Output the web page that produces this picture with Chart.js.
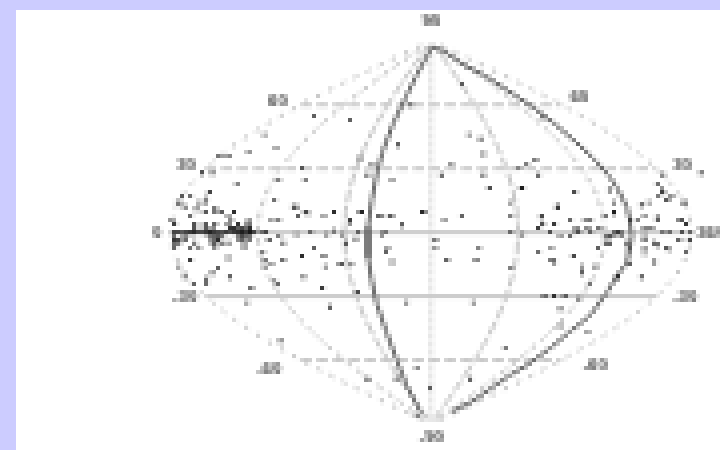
<!DOCTYPE html>
<html>
<head>
<meta charset="utf-8">
<script src="https://cdn.jsdelivr.net/npm/chart.js@4"></script>
<style>
html, body { margin: 0; height: 100%; background: #ccccff; overflow: hidden; }
#sky { position: absolute; left: 16px; top: 10px; background: #fff; image-rendering: pixelated; }
</style>
</head>
<body>
<canvas id="sky" width="704" height="440"></canvas>
<script>
// values are [projected longitude, latitude] in degrees
const starsNorth = [[99,55],[124,53],[65,46],[73,40],[54,38],[40,36],[34,36],[166,60],[157,41],[131,35],[139,32],[91,30],[75,25],[93,25],[153,25],[136,27],[46,23],[29,28],[22,28],
  [201,70],[206,46],[214,44],[216,37],[194,32],[187,27],[216,27],[220,21],[243,21],[246,32],[252,34],[241,30],[254,27],[242,21],[257,54],[336,23],[340,27],[366,28]];
const starsUpperBand = [[27,19],[72,15],[8,17],[14,17],[7,14],[25,16],[20,14],[31,10],[85,12],[88,8],[93,9.5],[106,8],[113,9.5],[131,9.5],[145,8],[151,8],[174,9.5],[124,6],
  [5,14],[10,12],[24,14],[18,11],[24,9.5],[31,11],[35,9.5],[14,8],[40,8],[44,9.5],[42,6],[54,6],[1,6],[70,6],[75,6],[87,12],[95,9],
  [132,9.5],[144,8],[153,8],[175,9.5],[201,8],[235,14],[235,8],[189,6],[124,5],[160,3.5],
  [256,8],[279,19],[267,12],[276,6],[286,6],[290,6],[303,20],[306,14],[325,13],[330,14],[340,19],[337,17],[344,16],[355,14],[336,6],[353,6],[306,9],[317,6],[300,8],[306,9.5],[322,6],[327,8],[336,7],[351,6],[339,20],[346,17],[342,15],[354,14],[256,7],[267,12],[265,4],[257,4]];
const starsEquatorLeft = [[3,0],[6,0],[10,0],[15,0],[17,0],[22,0],[27,0],[33,0],[35,0],[42,0],[46,0],[49,0],[51,0],[55,0],[57,0],[15,0.5],[17,-0.5],[27,0.5],[46,-0.5],[49,0.5],[51,-0.5],[55,0.5],
  [4,0.5],[8,-0.5],[12,0.5],[13,-0.5],[19,0.5],[24,-0.5],[25,0.5],[29,0],[30,0.5],[37,-0.5],[38,0.5],[40,0],[44,0.5],[48,-0.5],[53,0.5],[54,-0.5],[56,-0.5],[59,0],
  [17,2],[24,2],[29,2],[41,2],[44,2],[49,2],[55,2],[52,2.5],[47,1.5],
  [3,4],[17,4],[24,4],[31,4],[40,4],[47,4],[54,4],
  [3,-2],[10,-2],[27,-2],[33,-2],[35,-2],[48,-2],[51,-2],[54,-2],[50,-2.5],[30,-2],
  [3,-3.5],[6,-3.5],[10,-3.5],[29,-3.5],[33,-3.5],[48,-3.5],[54,-3.5],
  [3,-5],[6,-5],[17,-5],[29,-5],[31,-5],[35,-5],[40,-5],[51,-5],
  [3,-7],[14,-7],[20,-7],[31,-7],[51,-7]];
const starsLowerLeft = [[64,0],[66,0],[97,0],[113,1],[108,-1],[119,-1],[68,-3.5],[75,-2],[78,-5],[87,-1],[64,-9],[99,-7],[91,-11],[65,-13],[78,-13],[106,-11],[40,-12],[14,-13],[65,-16],[70,-15],[107,-16],[118,-15],[33,-17],[29,-19],[41,-21],[6,-16],[10,-21],[25,-22],[25,-24],[16,-24],[92,-21],[72,-23],[74,-24],[56,-26],[105,-26],
  [53,-33],[129,-28],[110,-35],[163,-33],[76,-51],[136,-69],[156,-69],[170,-64],[179,-73],[170,-86]];
const starsCentre = [[130,0],[128,-3],[121,-5],[125,-15],[117,-15],[148,0],[146,-1],[150,-7],[149,-9],[153,-14],[183,-3.5],[183,-7],[191,-13],[213,-7],[211,-13],[235,-17],[243,-1],[235,0],[254,-9]];
const starsEquatorRight = [[262,0],[269,-2],[276,-2],[280,2],[280,0],[282,0],[288,2],[290,0],[296,2],[300,-2],[305,-2],[307,0],[308,0.5],[310,0],[310,-1],[312,-1],[303,-2],[303,-5],[327,2],[332,2],[327,-1],[327,-3.5],[340,0],[344,0],[353,0],[359,0],[356,4],[358,-3.5],[351,-3.5],[342,-7],[334,-5],[327,-7],[327,-10],[334,-14],[315,-5],[316,-8],[295,-7],[284,-19],[293,-16],[278,-11],[263,-7],[263,-13],[325,-21],[308,-21],[254,2]];
const starsLowerRight = [[209,-33],[231,-54],[207,-69],[265,-14],[284,-16],[309,-21],[289,-24],[258,-30],[265,-30],[272,-30],[282,-31],[269,-36],[269,-44],[288,-47],[336,-6],[344,-8],[317,-15],[301,-5],[356,-9]];

const planeRightLon = [180,188.9,202.5,217.5,238,250.2,265.2,279.5,292.5,302.7,308.2,315,317,318.4,315,308.2,301.4,289.8,276.1,262.5,246.8,234.5,221.6,208,194.3];
const planeRightLat = [87.4,85.1,78.7,73.6,64.4,58.8,51,42.7,34.4,26.5,21,11.8,5.8,-2.1,-14.1,-20.5,-27.9,-39,-46.4,-54.2,-62.1,-67.1,-73.1,-79.6,-84.2];
const planeLeftLon = [180.7,169.8,163,153.4,146.6,142.5,139,136.4,136.4,136.4,139,142.5,149.3,156.1,163,173.2];
const planeLeftLat = [87.4,73.6,64.4,50.5,38.2,27.6,15,2.5,0.2,-11.8,-22.8,-33.5,-47.2,-59.8,-71.8,-85.1];

const gridLats = [-88,-80,-70,-60,-50,-40,-30,-20,-10,0,10,20,30,40,50,60,70,80,88];
const solidParallels = [0,-30];
const dashedParallels = [30,60,-60];
const outerMeridians = [-180,180];
const midMeridians = [-120,120];
const innerMeridians = [-60,60];

const labelTexts = ['90','60','30','0','-30','-60','-90','60','30','-30','-60','360'];
const labelLon = [180,74,11,-9,10,68,180,282,353,355,293,373];
const labelLat = [99,62.5,31,0,-31,-64,-96,63.5,32.5,-30,-62,0];

const meridian = lon => gridLats.map(lat => ({ x: 180 + lon * Math.cos(lat * Math.PI / 180), y: lat }));
const parallel = lat => {
    const half = 180 * Math.cos(lat * Math.PI / 180);
    return [{ x: 180 - half, y: lat }, { x: 180 + half, y: lat }];
};
const gridLine = (data, dash) => ({
    data, showLine: true, pointRadius: 0, borderColor: '#cacaca', borderWidth: 4, borderDash: dash, order: 3
});
const plane = (lon, lat) => ({
    data: lon.map((x, i) => ({ x, y: lat[i] })),
    showLine: true, pointRadius: 0, borderColor: '#6a6a6a', borderWidth: 4, order: 2
});

const allStars = [...starsNorth, ...starsUpperBand, ...starsEquatorLeft, ...starsLowerLeft, ...starsCentre, ...starsEquatorRight, ...starsLowerRight];

// map labels sit on the same scales as the marks
const mapLabels = {
    id: 'mapLabels',
    afterDatasetsDraw(chart) {
        const { ctx, scales } = chart;
        ctx.save();
        ctx.font = 'bold 17px "Liberation Sans"';
        ctx.fillStyle = '#444';
        ctx.textAlign = 'center';
        ctx.textBaseline = 'middle';
        labelTexts.forEach((t, i) => ctx.fillText(t, scales.x.getPixelForValue(labelLon[i]), scales.y.getPixelForValue(labelLat[i])));
        ctx.restore();
    }
};

new Chart(document.getElementById('sky'), {
    type: 'scatter',
    data: {
        datasets: [
            { data: allStars.map(s => ({ x: s[0], y: s[1] })), pointStyle: 'rect', pointRadius: 2.5, pointBorderWidth: 0, backgroundColor: '#111', order: 1 },
            plane(planeRightLon, planeRightLat),
            plane(planeLeftLon, planeLeftLat),
            ...solidParallels.map(lat => gridLine(parallel(lat), [])),
            ...dashedParallels.map(lat => gridLine(parallel(lat), [11, 5])),
            ...outerMeridians.map(lon => gridLine(meridian(lon), [5, 9])),
            ...midMeridians.map(lon => gridLine(meridian(lon), [7, 6])),
            ...innerMeridians.map(lon => gridLine(meridian(lon), [14, 3])),
            gridLine(meridian(0), [4, 4])
        ]
    },
    options: {
        responsive: false,
        devicePixelRatio: 0.25,
        animation: false,
        layout: { padding: 0 },
        plugins: { legend: { display: false }, tooltip: { enabled: false } },
        scales: {
            x: { type: 'linear', display: false, min: -103.6, max: 376.4 },
            y: { type: 'linear', display: false, min: -100.4, max: 102.7 }
        }
    },
    plugins: [mapLabels]
});
</script>
</body>
</html>
